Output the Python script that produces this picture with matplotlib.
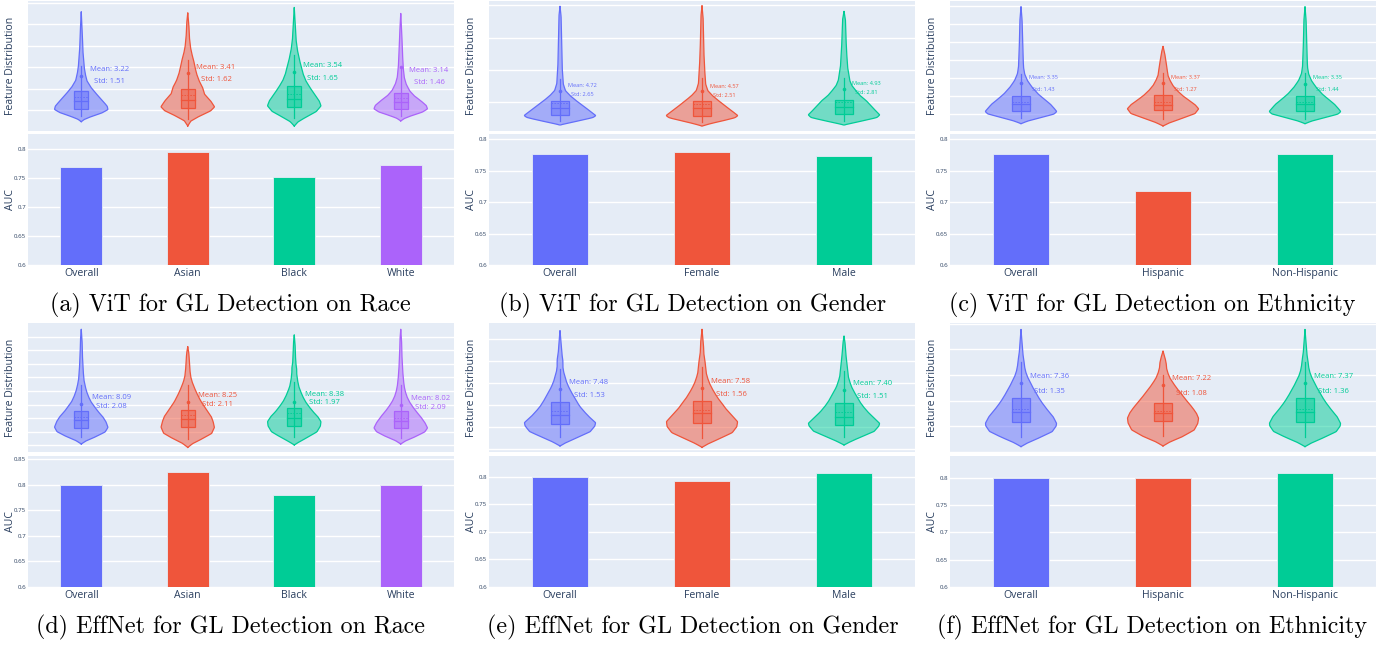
import matplotlib.pyplot as plt
from matplotlib.patches import Rectangle
import numpy as np

plt.rcParams['font.family'] = ['Open Sans', 'DejaVu Sans']

W, H = 1396, 646
BG = '#E5ECF6'
INK = '#2a3f5f'
COLORS = ['#636EFA', '#EF553B', '#00CC96', '#AB63FA']

race_groups = ['Overall', 'Asian', 'Black', 'White']
gender_groups = ['Overall', 'Female', 'Male']
eth_groups = ['Overall', 'Hispanic', 'Non-Hispanic']

# ---------------- ViT / race ----------------
vit_race_auc = [0.768, 0.794, 0.752, 0.771]
vit_race_mean = [3.22, 3.41, 3.54, 3.14]
vit_race_std = [1.51, 1.62, 1.65, 1.46]
vit_race_q1 = [2.15, 2.19, 2.31, 2.09]
vit_race_med = [2.87, 2.94, 3.03, 2.78]
vit_race_q3 = [3.75, 3.97, 4.25, 3.60]
vit_race_dot = [5.22, 5.44, 5.60, 6.00]
vit_race_vy = [
    [0.93, 1.15, 1.43, 1.75, 2.06, 2.37, 2.87, 3.50, 4.13, 4.75, 5.38, 6.00, 7.57, 9.13, 11.17],
    [0.53, 1.00, 1.46, 1.93, 2.31, 2.87, 3.50, 4.13, 4.75, 5.38, 6.00, 6.63, 7.26, 7.88, 8.82, 10.07, 11.07],
    [0.53, 0.93, 1.37, 1.87, 2.40, 2.87, 3.50, 4.13, 4.75, 5.38, 6.00, 6.63, 7.57, 8.51, 9.76, 11.57],
    [1.00, 1.25, 1.53, 1.81, 2.12, 2.44, 2.87, 3.34, 3.81, 4.44, 5.06, 6.00, 7.57, 9.13, 11.01],
]
vit_race_vw = [
    [0, 0.12, 0.4, 0.78, 1.0, 0.97, 0.8, 0.57, 0.36, 0.21, 0.15, 0.11, 0.06, 0.04, 0],
    [0, 0.12, 0.45, 0.85, 1.0, 0.85, 0.62, 0.55, 0.42, 0.33, 0.27, 0.22, 0.15, 0.10, 0.06, 0.04, 0],
    [0, 0.15, 0.45, 0.82, 1.0, 0.93, 0.75, 0.58, 0.43, 0.33, 0.27, 0.2, 0.12, 0.07, 0.04, 0],
    [0, 0.15, 0.45, 0.8, 1.0, 0.95, 0.75, 0.5, 0.33, 0.2, 0.13, 0.09, 0.06, 0.04, 0],
]

# ---------------- ViT / gender ----------------
vit_gender_auc = [0.776, 0.779, 0.773]
vit_gender_mean = [4.72, 4.57, 4.93]
vit_gender_std = [2.65, 2.51, 2.81]
vit_gender_q1 = [2.95, 2.79, 3.06]
vit_gender_med = [3.94, 3.94, 4.10]
vit_gender_q3 = [5.16, 5.16, 5.32]
vit_gender_dot = [6.73, 6.62, 6.94]
vit_gender_vy = [
    [1.37, 1.69, 2.11, 2.53, 2.84, 3.26, 4.11, 5.16, 5.95, 6.73, 7.79, 10.41, 13.04, 15.67, 18.30, 19.88],
    [1.21, 1.60, 2.05, 2.50, 2.84, 3.26, 4.11, 5.16, 5.95, 6.73, 7.79, 10.41, 13.04, 15.67, 18.30, 19.98],
    [1.37, 1.69, 2.11, 2.53, 2.95, 3.37, 4.21, 5.16, 5.95, 6.73, 7.52, 8.31, 10.41, 13.04, 15.67, 17.78, 19.09],
]
vit_gender_vw = [
    [0, 0.25, 0.6, 0.92, 1.0, 0.9, 0.7, 0.45, 0.28, 0.15, 0.09, 0.06, 0.05, 0.04, 0.03, 0],
    [0, 0.25, 0.6, 0.92, 1.0, 0.9, 0.7, 0.46, 0.29, 0.16, 0.1, 0.07, 0.05, 0.04, 0.03, 0],
    [0, 0.25, 0.6, 0.92, 1.0, 0.92, 0.78, 0.62, 0.45, 0.33, 0.22, 0.16, 0.1, 0.07, 0.05, 0.04, 0],
]

# ---------------- ViT / ethnicity ----------------
vit_eth_auc = [0.776, 0.717, 0.777]
vit_eth_mean = [3.35, 3.37, 3.35]
vit_eth_std = [1.43, 1.27, 1.44]
vit_eth_q1 = [2.37, 2.48, 2.30]
vit_eth_med = [3.12, 3.04, 3.11]
vit_eth_q3 = [4.01, 4.12, 4.01]
vit_eth_dot = [5.42, 5.42, 5.36]
vit_eth_vy = [
    [0.95, 1.25, 1.62, 2.00, 2.29, 2.67, 3.11, 3.49, 4.23, 4.98, 5.72, 6.47, 7.21, 9.07, 10.94, 12.43, 13.92],
    [0.69, 1.07, 1.55, 2.07, 2.59, 3.04, 3.49, 4.05, 4.60, 5.16, 5.72, 6.28, 6.84, 7.40, 8.14, 8.70, 9.52],
    [0.95, 1.25, 1.62, 2.00, 2.29, 2.67, 3.11, 3.49, 4.23, 4.98, 5.72, 6.47, 7.21, 9.07, 10.94, 12.43, 13.92],
]
vit_eth_vw = [
    [0, 0.2, 0.55, 0.92, 1.0, 0.92, 0.82, 0.7, 0.48, 0.31, 0.18, 0.1, 0.07, 0.05, 0.04, 0.03, 0],
    [0, 0.2, 0.55, 0.9, 1.0, 0.9, 0.74, 0.55, 0.4, 0.28, 0.2, 0.14, 0.12, 0.1, 0.07, 0.05, 0],
    [0, 0.2, 0.55, 0.92, 1.0, 0.92, 0.82, 0.7, 0.48, 0.31, 0.18, 0.1, 0.07, 0.05, 0.04, 0.03, 0],
]

# ---------------- EffNet / race ----------------
eff_race_auc = [0.799, 0.824, 0.780, 0.800]
eff_race_mean = [8.09, 8.25, 8.38, 8.02]
eff_race_std = [2.08, 2.11, 1.97, 2.09]
eff_race_q1 = [7.31, 7.38, 7.46, 7.27]
eff_race_med = [7.88, 7.93, 8.05, 7.80]
eff_race_q3 = [8.56, 8.61, 8.74, 8.54]
eff_race_dot = [9.05, 9.18, 9.22, 9.00]
eff_race_vy = [
    [6.11, 6.36, 6.65, 7.00, 7.34, 7.75, 8.12, 8.49, 8.86, 9.22, 9.59, 9.96, 10.33, 10.82, 11.55, 12.78, 13.76, 14.54],
    [5.86, 6.16, 6.50, 6.89, 7.34, 7.75, 8.12, 8.49, 8.86, 9.22, 9.59, 9.96, 10.33, 10.69, 11.06, 11.55, 12.29, 12.78, 13.27],
    [6.04, 6.28, 6.60, 7.00, 7.43, 7.75, 8.12, 8.49, 8.86, 9.22, 9.59, 9.96, 10.33, 10.82, 11.31, 11.67, 12.04, 12.78, 13.51, 14.13],
    [6.11, 6.36, 6.65, 7.00, 7.29, 7.68, 8.12, 8.49, 8.86, 9.22, 9.59, 9.96, 10.33, 10.82, 11.55, 12.78, 13.76, 14.54],
]
eff_race_vw = [
    [0, 0.2, 0.55, 0.9, 1.0, 0.92, 0.8, 0.63, 0.49, 0.36, 0.27, 0.2, 0.15, 0.1, 0.07, 0.04, 0.03, 0],
    [0, 0.2, 0.55, 0.9, 1.0, 0.95, 0.88, 0.75, 0.62, 0.5, 0.4, 0.31, 0.23, 0.16, 0.11, 0.08, 0.06, 0.04, 0],
    [0, 0.2, 0.5, 0.85, 0.98, 1.0, 0.88, 0.7, 0.55, 0.42, 0.32, 0.24, 0.17, 0.12, 0.09, 0.09, 0.06, 0.04, 0.03, 0],
    [0, 0.2, 0.55, 0.9, 1.0, 0.9, 0.74, 0.58, 0.44, 0.32, 0.23, 0.17, 0.13, 0.1, 0.07, 0.04, 0.03, 0],
]

# ---------------- EffNet / gender ----------------
eff_gender_auc = [0.799, 0.793, 0.807]
eff_gender_mean = [7.48, 7.58, 7.40]
eff_gender_std = [1.53, 1.56, 1.51]
eff_gender_q1 = [6.27, 6.36, 6.20]
eff_gender_med = [7.09, 7.27, 6.96]
eff_gender_q3 = [8.27, 8.39, 8.18]
eff_gender_dot = [9.48, 9.60, 9.39]
eff_gender_vy = [
    [4.30, 4.66, 5.09, 5.60, 6.12, 6.42, 6.97, 7.42, 7.88, 8.33, 8.79, 9.24, 9.69, 10.15, 10.60, 11.06, 11.51, 12.12, 12.72, 13.63, 14.79],
    [4.18, 4.54, 4.97, 5.51, 6.06, 6.51, 7.27, 7.72, 8.18, 8.63, 9.09, 9.54, 10.00, 10.45, 10.91, 11.51, 12.12, 12.72, 13.63, 14.91],
    [4.39, 4.72, 5.15, 5.63, 6.12, 6.36, 6.97, 7.42, 7.88, 8.33, 8.79, 9.24, 9.69, 10.15, 10.60, 11.21, 11.82, 12.72, 13.63, 14.30],
]
eff_gender_vw = [
    [0, 0.2, 0.5, 0.85, 0.98, 1.0, 0.81, 0.68, 0.56, 0.47, 0.39, 0.31, 0.24, 0.18, 0.14, 0.1, 0.08, 0.08, 0.05, 0.03, 0],
    [0, 0.2, 0.5, 0.85, 0.98, 1.0, 0.79, 0.66, 0.56, 0.45, 0.36, 0.28, 0.21, 0.16, 0.12, 0.1, 0.08, 0.05, 0.04, 0],
    [0, 0.2, 0.5, 0.85, 0.98, 1.0, 0.8, 0.66, 0.54, 0.44, 0.36, 0.28, 0.21, 0.16, 0.12, 0.1, 0.08, 0.05, 0.03, 0],
]

# ---------------- EffNet / ethnicity ----------------
eff_eth_auc = [0.799, 0.799, 0.808]
eff_eth_mean = [7.36, 7.22, 7.37]
eff_eth_std = [1.35, 1.08, 1.36]
eff_eth_q1 = [6.32, 6.42, 6.32]
eff_eth_med = [7.10, 7.07, 7.10]
eff_eth_q3 = [8.19, 7.84, 8.19]
eff_eth_dot = [9.40, 9.22, 9.40]
eff_eth_vy = [
    [4.42, 4.73, 5.15, 5.59, 6.03, 6.24, 6.76, 7.15, 7.54, 7.92, 8.31, 8.70, 9.09, 9.48, 9.87, 10.26, 10.65, 11.17, 11.69, 12.46, 13.55],
    [4.47, 4.79, 5.20, 5.72, 6.24, 6.63, 7.02, 7.41, 7.79, 8.18, 8.57, 8.96, 9.35, 9.74, 10.13, 10.52, 10.91, 11.30, 11.87],
    [4.42, 4.73, 5.15, 5.59, 6.03, 6.24, 6.76, 7.15, 7.54, 7.92, 8.31, 8.70, 9.09, 9.48, 9.87, 10.26, 10.65, 11.17, 11.69, 12.46, 13.55],
]
eff_eth_vw = [
    [0, 0.2, 0.55, 0.88, 0.99, 1.0, 0.9, 0.78, 0.67, 0.57, 0.48, 0.4, 0.32, 0.25, 0.18, 0.13, 0.1, 0.08, 0.05, 0.03, 0],
    [0, 0.2, 0.55, 0.88, 0.98, 1.0, 0.94, 0.84, 0.73, 0.61, 0.5, 0.39, 0.29, 0.2, 0.14, 0.1, 0.09, 0.06, 0],
    [0, 0.2, 0.55, 0.88, 0.99, 1.0, 0.9, 0.78, 0.67, 0.57, 0.48, 0.4, 0.32, 0.25, 0.18, 0.13, 0.1, 0.08, 0.05, 0.03, 0],
]

captions = [
    '(a) ViT for GL Detection on Race',
    '(b) ViT for GL Detection on Gender',
    '(c) ViT for GL Detection on Ethnicity',
    '(d) EffNet for GL Detection on Race',
    '(e) EffNet for GL Detection on Gender',
    '(f) EffNet for GL Detection on Ethnicity',
]

panels = [
    dict(groups=race_groups, auc=vit_race_auc, mean=vit_race_mean, std=vit_race_std,
         q1=vit_race_q1, med=vit_race_med, q3=vit_race_q3, dot=vit_race_dot,
         vy=vit_race_vy, vw=vit_race_vw),
    dict(groups=gender_groups, auc=vit_gender_auc, mean=vit_gender_mean, std=vit_gender_std,
         q1=vit_gender_q1, med=vit_gender_med, q3=vit_gender_q3, dot=vit_gender_dot,
         vy=vit_gender_vy, vw=vit_gender_vw),
    dict(groups=eth_groups, auc=vit_eth_auc, mean=vit_eth_mean, std=vit_eth_std,
         q1=vit_eth_q1, med=vit_eth_med, q3=vit_eth_q3, dot=vit_eth_dot,
         vy=vit_eth_vy, vw=vit_eth_vw),
    dict(groups=race_groups, auc=eff_race_auc, mean=eff_race_mean, std=eff_race_std,
         q1=eff_race_q1, med=eff_race_med, q3=eff_race_q3, dot=eff_race_dot,
         vy=eff_race_vy, vw=eff_race_vw),
    dict(groups=gender_groups, auc=eff_gender_auc, mean=eff_gender_mean, std=eff_gender_std,
         q1=eff_gender_q1, med=eff_gender_med, q3=eff_gender_q3, dot=eff_gender_dot,
         vy=eff_gender_vy, vw=eff_gender_vw),
    dict(groups=eth_groups, auc=eff_eth_auc, mean=eff_eth_mean, std=eff_eth_std,
         q1=eff_eth_q1, med=eff_eth_med, q3=eff_eth_q3, dot=eff_eth_dot,
         vy=eff_eth_vy, vw=eff_eth_vw),
]

# axis ranges and annotation placement per panel
styles = [
    dict(vlim=(0.06, 12.17), vgrid=np.arange(2, 13, 2), blim=(0.6, 0.825), dx=0.266, dm=2.6, ds=1.45, fs=5.5),
    dict(vlim=(0.43, 20.7), vgrid=np.arange(5, 21, 5), blim=(0.6, 0.808), dx=0.155, dm=2.85, ds=1.45, fs=4.1),
    dict(vlim=(0.13, 14.55), vgrid=np.arange(2, 15, 2), blim=(0.6, 0.808), dx=0.155, dm=2.7, ds=1.37, fs=4.1),
    dict(vlim=(5.52, 15.0), vgrid=np.arange(6, 15, 1), blim=(0.6, 0.856), dx=0.28, dm=1.4, ds=0.77, fs=5.5),
    dict(vlim=(3.75, 15.48), vgrid=np.arange(4, 15, 2), blim=(0.6, 0.838), dx=0.204, dm=2.6, ds=1.38, fs=5.5),
    dict(vlim=(4.0, 14.05), vgrid=np.arange(4, 15, 2), blim=(0.6, 0.84), dx=0.202, dm=2.5, ds=1.33, fs=5.5),
]

col_left = [28, 489, 950]
col_width = 426
row_violin = [(1, 131), (323, 452)]
row_bar = [(134, 265), (456, 587)]
cap_x = [230, 693, 1152]
cap_y = [305, 627]


def px_axes(fig, x0, y0, x1, y1):
    return fig.add_axes([x0 / W, 1 - y1 / H, (x1 - x0) / W, (y1 - y0) / H])


def style_axes(ax):
    ax.set_facecolor(BG)
    for s in ax.spines.values():
        s.set_visible(False)
    ax.grid(axis='y', color='white', lw=1.0)
    ax.set_axisbelow(True)
    ax.tick_params(length=0, colors=INK)


def draw_violin(ax, x, ys, ws, q1, med, q3, mean, dot, color, half=0.25, bh=0.064):
    ys = np.asarray(ys, float)
    ws = np.asarray(ws, float)
    yy = np.linspace(ys[0], ys[-1], 900)
    ww = np.interp(yy, ys, ws)
    k = np.hanning(17)
    k /= k.sum()
    ww = np.convolve(np.pad(ww, 8, mode='edge'), k, mode='valid')
    ww = ww / ww.max() * half
    ax.fill_betweenx(yy, x - ww, x + ww, facecolor=color, alpha=0.5, lw=0, zorder=2)
    ax.plot(np.r_[x - ww, (x + ww)[::-1]], np.r_[yy, yy[::-1]], color=color, lw=0.9, zorder=3)
    iqr = q3 - q1
    lo = max(ys[0] + 0.4 * (q1 - ys[0]), q1 - 1.5 * iqr)
    hi = min(ys[-1], q3 + 1.5 * iqr)
    ax.plot([x, x], [lo, hi], color=color, lw=0.9, zorder=3)
    ax.add_patch(Rectangle((x - bh, q1), 2 * bh, iqr, facecolor=color, alpha=0.5,
                           lw=0, zorder=4))
    ax.add_patch(Rectangle((x - bh, q1), 2 * bh, iqr, facecolor='none', edgecolor=color,
                           lw=0.9, zorder=5))
    ax.plot([x - bh, x + bh], [med, med], color=color, lw=0.9, zorder=5)
    ax.plot([x - bh, x + bh], [mean, mean], color=color, lw=0.6, ls=(0, (2, 1.5)), zorder=5)
    ax.plot([x], [dot], 'o', color=color, ms=2.6, mew=0, zorder=5)


fig = plt.figure(figsize=(W / 100, H / 100), dpi=100)

for i, (p, st) in enumerate(zip(panels, styles)):
    r, c = divmod(i, 3)
    n = len(p['groups'])
    xs = np.arange(n)
    x0, x1 = col_left[c], col_left[c] + col_width

    # feature distribution violins
    av = px_axes(fig, x0, row_violin[r][0], x1, row_violin[r][1])
    style_axes(av)
    av.set_xlim(-0.5, n - 0.5)
    av.set_ylim(*st['vlim'])
    av.set_yticks(st['vgrid'])
    av.set_yticklabels([])
    av.set_xticks([])
    for j in range(n):
        col = COLORS[j]
        draw_violin(av, xs[j], p['vy'][j], p['vw'][j], p['q1'][j], p['med'][j],
                    p['q3'][j], p['mean'][j], p['dot'][j], col)
        av.text(xs[j] + st['dx'], p['mean'][j] + st['dm'], f"Mean: {p['mean'][j]:.2f}",
                ha='center', va='center', color=col, fontsize=st['fs'], zorder=6)
        av.text(xs[j] + st['dx'], p['mean'][j] + st['ds'], f"Std: {p['std'][j]:.2f}",
                ha='center', va='center', color=col, fontsize=st['fs'], zorder=6)
    av.set_ylabel('Feature Distribution', fontsize=7.6, color=INK)
    av.yaxis.set_label_coords(-12 / col_width, 0.5)

    # AUC bars
    ab = px_axes(fig, x0, row_bar[r][0], x1, row_bar[r][1])
    style_axes(ab)
    ab.bar(xs, p['auc'], width=0.39, color=COLORS[:n], edgecolor=BG, lw=0.6, zorder=2)
    ab.set_xlim(-0.5, n - 0.5)
    ab.set_ylim(*st['blim'])
    ticks = [t for t in [0.6, 0.65, 0.7, 0.75, 0.8, 0.85] if t <= st['blim'][1] + 1e-9]
    ab.set_yticks(ticks)
    ab.set_yticklabels([f'{t:g}' for t in ticks])
    ab.tick_params(axis='y', labelsize=4.4, pad=1.5)
    ab.set_xticks(xs)
    ab.set_xticklabels(p['groups'])
    ab.tick_params(axis='x', labelsize=7.6, pad=2)
    ab.set_ylabel('AUC', fontsize=7.6, color=INK)
    ab.yaxis.set_label_coords(-12 / col_width, 0.5)

    fig.text(cap_x[c] / W, 1 - cap_y[r] / H, captions[i], ha='center', va='center',
             family='cmr10', fontsize=17.3)

fig.savefig('out.png', dpi=100)
